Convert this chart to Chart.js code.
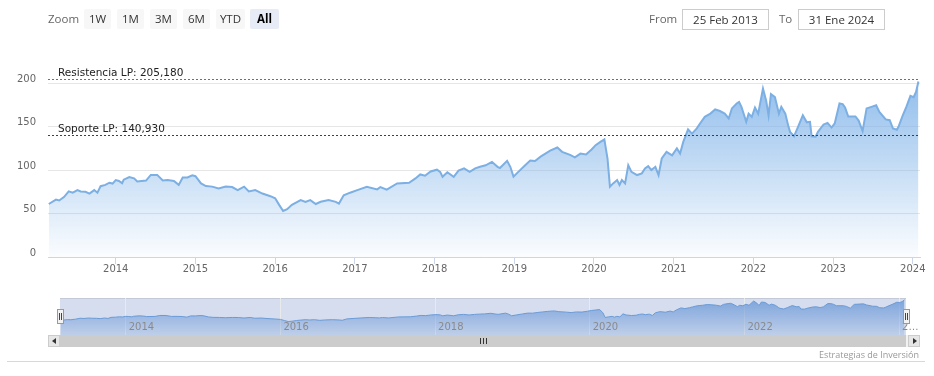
<!DOCTYPE html>
<html><head><meta charset="utf-8">
<script src="https://cdn.jsdelivr.net/npm/chart.js@4.4.1/dist/chart.umd.min.js"></script>
<style>
html,body{margin:0;padding:0;background:#fff;}
body{width:934px;height:376px;position:relative;overflow:hidden;font-family:"DejaVu Sans",sans-serif;}
#mainWrap{position:absolute;left:0;top:0;width:934px;height:290px;}
#navBg{position:absolute;left:60px;top:298px;width:846px;height:37px;background:#d5ddee;border-top:1px solid #c3c9d6;box-sizing:border-box;}
#navWrap{position:absolute;left:0;top:290px;width:934px;height:45px;}
.tb{position:absolute;font-family:"Open Sans",sans-serif;font-size:11.5px;color:#666;}
.btn{position:absolute;top:9px;height:20px;line-height:20px;background:#f7f7f7;font-family:"Open Sans",sans-serif;font-size:11.5px;color:#333;text-align:center;border-radius:2px;}
.btn.sel{background:#e6ebf5;font-weight:bold;color:#000;}
.inp{position:absolute;top:9px;height:21px;line-height:20px;border:1px solid #cccccc;box-sizing:border-box;font-family:"Open Sans",sans-serif;font-size:11.5px;color:#333;text-align:center;background:#fff;}
.handle{position:absolute;top:309px;width:7px;height:15px;background:#f2f2f2;border:1px solid #999;box-sizing:border-box;}
.handle:before,.handle:after{content:"";position:absolute;top:3px;width:1px;height:7px;background:#444;}
.handle:before{left:1px}.handle:after{left:3px}
#sbTrack{position:absolute;left:48px;top:335px;width:872px;height:12px;background:#f2f2f2;}
#sbThumb{position:absolute;left:60px;top:335px;width:846px;height:12px;background:#cccccc;}
.sbBtn{position:absolute;top:335px;width:12px;height:12px;background:#e6e6e6;border:1px solid #cccccc;box-sizing:border-box;}
.arrowL{position:absolute;left:3px;top:2px;width:0;height:0;border-top:3px solid transparent;border-bottom:3px solid transparent;border-right:4px solid #333;}
.arrowR{position:absolute;left:4px;top:2px;width:0;height:0;border-top:3px solid transparent;border-bottom:3px solid transparent;border-left:4px solid #333;}
.grip{position:absolute;top:338px;width:1px;height:6px;background:#333;}
#sep{position:absolute;left:7px;top:361px;width:918px;height:1px;background:#d8d8d8;}
#credit{position:absolute;right:15px;top:348px;font-family:"Open Sans",sans-serif;font-size:9px;color:#999;}
</style>
</head><body>
<div id="mainWrap"><canvas id="main" width="934" height="290"></canvas></div>
<div id="navBg"></div>
<div id="navWrap"><canvas id="nav" width="934" height="45"></canvas></div>

<div class="tb" style="left:48px;top:11px;">Zoom</div>
<div class="btn" style="left:84px;width:27px;">1W</div>
<div class="btn" style="left:117px;width:27px;">1M</div>
<div class="btn" style="left:150px;width:27px;">3M</div>
<div class="btn" style="left:183px;width:27px;">6M</div>
<div class="btn" style="left:216px;width:29px;">YTD</div>
<div class="btn sel" style="left:250px;width:29px;">All</div>
<div class="tb" style="left:649px;top:11px;">From</div>
<div class="inp" style="left:682px;width:87px;">25 Feb 2013</div>
<div class="tb" style="left:779px;top:11px;">To</div>
<div class="inp" style="left:798px;width:87px;">31 Ene 2024</div>

<div class="handle" style="left:57px;"></div>
<div class="handle" style="left:903px;"></div>
<div id="sbTrack"></div>
<div id="sbThumb"></div>
<div class="sbBtn" style="left:48px;"><div class="arrowL"></div></div>
<div class="sbBtn" style="left:908px;"><div class="arrowR"></div></div>
<div class="grip" style="left:480px;"></div>
<div class="grip" style="left:483px;"></div>
<div class="grip" style="left:486px;"></div>
<div id="credit">Estrategias de Inversión</div>
<div id="sep"></div>

<script>
// ---- data (decimal years / price) ----
const years = [2013.16,2013.25,2013.29,2013.35,2013.41,2013.46,2013.52,2013.56,2013.62,2013.67,2013.73,2013.77,2013.81,2013.87,2013.92,2013.96,
2014.00,2014.04,2014.08,2014.10,2014.17,2014.23,2014.27,2014.38,2014.44,2014.52,2014.59,2014.65,2014.73,2014.79,2014.84,2014.90,2014.96,
2015.00,2015.07,2015.13,2015.21,2015.29,2015.38,2015.46,2015.53,2015.61,2015.67,2015.75,2015.84,2015.94,
2016.00,2016.05,2016.10,2016.15,2016.21,2016.32,2016.38,2016.44,2016.51,2016.57,2016.67,2016.76,2016.80,2016.86,2016.94,
2017.03,2017.15,2017.28,2017.32,2017.40,2017.53,2017.68,2017.76,2017.82,2017.88,2017.95,
2018.03,2018.07,2018.10,2018.16,2018.24,2018.30,2018.37,2018.44,2018.51,2018.57,2018.64,2018.72,2018.79,2018.82,2018.91,2018.95,2018.99,
2019.05,2019.13,2019.20,2019.26,2019.33,2019.39,2019.45,2019.54,2019.60,2019.70,2019.76,2019.83,2019.90,2019.97,
2020.02,2020.08,2020.13,2020.17,2020.20,2020.24,2020.29,2020.32,2020.35,2020.39,2020.43,2020.47,2020.54,2020.60,2020.64,2020.68,2020.72,2020.77,2020.81,2020.85,2020.91,2020.98,
2021.04,2021.08,2021.12,2021.18,2021.23,2021.29,2021.33,2021.39,2021.46,2021.52,2021.58,2021.64,2021.69,2021.73,2021.79,2021.82,2021.85,2021.91,2021.94,2021.98,
2022.02,2022.06,2022.12,2022.16,2022.19,2022.22,2022.27,2022.32,2022.35,2022.40,2022.44,2022.46,2022.51,2022.56,2022.62,2022.67,2022.71,2022.73,2022.78,2022.81,2022.88,2022.93,2022.98,
2023.02,2023.08,2023.12,2023.15,2023.19,2023.28,2023.32,2023.37,2023.42,2023.48,2023.54,2023.58,2023.66,2023.71,2023.75,2023.80,2023.82,2023.87,2023.92,2023.97,
2024.01,2024.04,2024.07];

const prices = [61,66,65,69,75.5,74,77,75.5,75,73,77,74,81.5,83,85.5,84.5,
88.5,87.5,85,89,92,90.5,87,88,94.5,94.5,88,88.5,87.5,83,91.5,91.5,94,
93,84.7,81.6,81,79,81,80.5,77,81,75.5,77,73,70,
67.5,60,53,55,60,65.5,63.5,65.5,61,63.5,65.5,63.5,61.5,71,74,
77,80.8,77.8,80.5,77.5,84.7,85.4,90.4,95,93.5,98.5,
100.5,98,92.3,97.5,92.3,99.5,102,98,102,103.8,105.5,109.5,103.8,102.5,110.7,103.8,92.5,
98,105,111,110.5,115.5,119,122.5,126,121,117.5,114.6,119,118,123.8,
128.7,132.5,135.3,113,80.8,84.7,88.5,82.8,88.5,84.7,105.7,98,94.3,96.2,102,104.6,100,103.8,94.3,113.4,121,117,
125,119,132.5,146.8,142,148,153.7,161.3,165,169.8,168,165,159.4,171,176.7,178.5,172.8,155.5,165,161.3,
172,165,194,180,163,187.4,184,165,172.8,165,150,144,139,149.8,163,155,155.5,139,138.5,144,152.5,154.4,149,
153.7,176.7,176,172,161.7,161.7,157,145,171,172.8,174.7,167,158.3,157.5,148,146.5,149.8,162,173,185.5,
184,190,202];

const yTicks = [0,50,100,150,200];
const xTicks = [2014,2015,2016,2017,2018,2019,2020,2021,2022,2023,2024];
const navTicks = [2014,2016,2018,2020,2022,2024];
const navTickLabels = ['2014','2016','2018','2020','2022','2…'];
const lineLabels = ['Resistencia LP: 205,180','Soporte LP: 140,930'];
const lineValues = [205.18,140.93];
const lineColors = ['#3d9a2a','#a3141c'];

const points = years.map((x,i)=>({x:x,y:prices[i]}));

function grad(ctx, area, c1, c2){
  if(!area) return c1;
  const g = ctx.createLinearGradient(0, area.top, 0, area.bottom);
  g.addColorStop(0, c1); g.addColorStop(1, c2);
  return g;
}

const plotLinesPlugin = {
  id:'plotLinesPlugin',
  afterDatasetsDraw(chart){
    const {ctx, chartArea:a} = chart;
    const y = chart.scales.y;
    lineValues.forEach((v,i)=>{
      const py = Math.round(y.getPixelForValue(v)) + 0.5;
      ctx.save();
      ctx.strokeStyle = lineColors[i];
      ctx.lineWidth = 1;
      ctx.setLineDash([2,2]);
      ctx.beginPath(); ctx.moveTo(a.left, py); ctx.lineTo(a.right, py); ctx.stroke();
      ctx.setLineDash([]);
      ctx.fillStyle = '#222';
      ctx.font = '10.5px "DejaVu Sans"';
      ctx.textAlign = 'left';
      ctx.textBaseline = 'alphabetic';
      ctx.fillText(lineLabels[i], a.left + 10, py - 3.5);
      ctx.restore();
    });
  }
};

const navLabelsPlugin = {
  id:'navLabelsPlugin',
  afterDraw(chart){
    const {ctx, chartArea:a} = chart;
    const x = chart.scales.x;
    ctx.save();
    ctx.fillStyle = '#8a8a8a';
    ctx.font = '10px "DejaVu Sans"';
    ctx.textAlign = 'left';
    ctx.textBaseline = 'middle';
    navTicks.forEach((v,i)=>{
      ctx.fillText(navTickLabels[i], x.getPixelForValue(v) + 3, a.bottom - 8);
    });
    ctx.restore();
  }
};

new Chart(document.getElementById('main'), {
  type:'line',
  data:{datasets:[{
    data:points,
    borderColor:'#7cafe3',
    borderWidth:2,
    pointRadius:0,
    tension:0,
    fill:'start',
    backgroundColor:(c)=>grad(c.chart.ctx, c.chart.chartArea, 'rgba(124,177,232,0.85)', 'rgba(124,177,232,0.03)')
  }]},
  options:{
    responsive:false, animation:false,
    layout:{padding:{top:78,left:0,right:14,bottom:0}},
    plugins:{legend:{display:false},tooltip:{enabled:false}},
    scales:{
      x:{type:'linear',min:2013.15,max:2024.09,
        afterBuildTicks:(s)=>{s.ticks = xTicks.map(v=>({value:v}));},
        afterFit:(s)=>{s.height = 33;},
        grid:{drawOnChartArea:false,drawTicks:true,tickLength:7,color:'#ccd6eb'},
        border:{color:'#ccd6eb'},
        ticks:{padding:-1,color:'#666',font:{family:'DejaVu Sans',size:10},maxRotation:0,autoSkip:false,callback:(v)=>String(v)}
      },
      y:{min:0,max:206,
        afterBuildTicks:(s)=>{s.ticks = yTicks.map(v=>({value:v}));},
        afterFit:(s)=>{s.width = 48;},
        grid:{color:'#e6e6e6',drawTicks:false},
        border:{display:false},
        ticks:{padding:12,labelOffset:-4,color:'#666',font:{family:'DejaVu Sans',size:10}}
      }
    }
  },
  plugins:[plotLinesPlugin]
});

new Chart(document.getElementById('nav'), {
  type:'line',
  data:{datasets:[{
    data:points,
    borderColor:'#6a9ad6',
    borderWidth:1,
    pointRadius:0,
    tension:0,
    fill:'start',
    backgroundColor:(c)=>grad(c.chart.ctx, c.chart.chartArea, 'rgba(100,148,214,0.8)', 'rgba(100,148,214,0.2)')
  }]},
  options:{
    responsive:false, animation:false,
    layout:{padding:{top:8,left:60,right:28,bottom:0}},
    plugins:{legend:{display:false},tooltip:{enabled:false}},
    scales:{
      x:{type:'linear',min:2013.15,max:2024.09,
        afterBuildTicks:(s)=>{s.ticks = navTicks.map(v=>({value:v}));},
        afterFit:(s)=>{s.height = 0;},
        grid:{drawOnChartArea:true,drawTicks:false,color:'rgba(235,235,235,0.9)'},
        border:{display:false},
        ticks:{display:false}
      },
      y:{display:false,min:-40,max:215}
    }
  },
  plugins:[navLabelsPlugin]
});
</script>
</body></html>
